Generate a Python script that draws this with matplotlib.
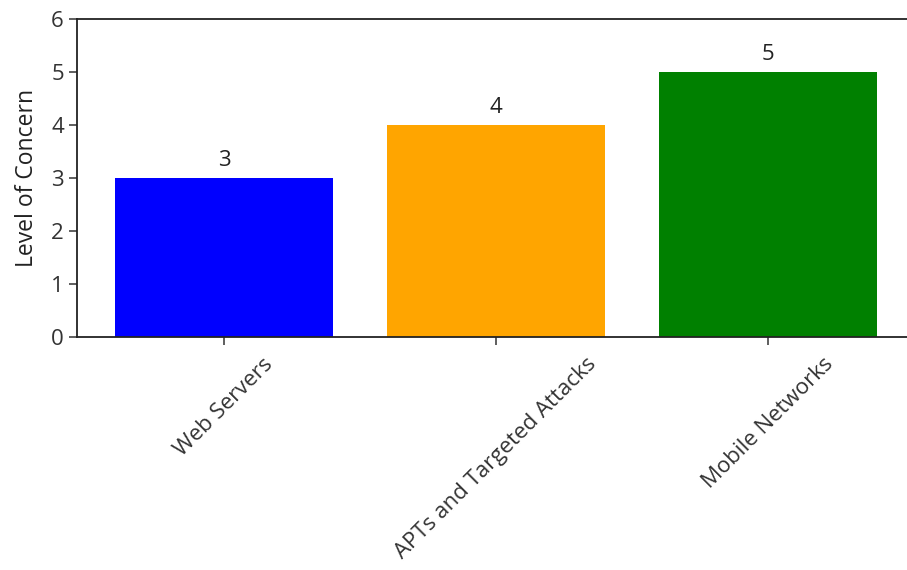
import matplotlib.pyplot as plt

categories = ["Web Servers", "APTs and Targeted Attacks", "Mobile Networks"]
concern = [3, 4, 5]
colors = ["blue", "orange", "green"]

plt.rcParams["font.family"] = ["Open Sans", "DejaVu Sans"]

fig = plt.figure(figsize=(9.07, 5.70), dpi=100)
# axes reach past the right edge, the reference is cropped there
ax = fig.add_axes([77 / 907, 1 - 337 / 570, 838 / 907, 318 / 570])

bars = ax.bar(categories, concern, color=colors, width=0.8)
for b, v in zip(bars, concern):
    ax.text(b.get_x() + b.get_width() / 2, v + 0.14, str(v),
            ha="center", va="bottom", fontsize=16, color="#222222")

ax.set_ylim(0, 6)
ax.set_ylabel("Level of Concern", fontsize=16.5, color="#222222", labelpad=9)
ax.tick_params(axis="both", labelsize=16, length=6, width=1.1, colors="#333333")
ax.tick_params(axis="x", pad=6)
plt.xticks(rotation=45)
for s in ax.spines.values():
    s.set_linewidth(1.3)
    s.set_color("#222222")

fig.savefig("out.png", dpi=100)
